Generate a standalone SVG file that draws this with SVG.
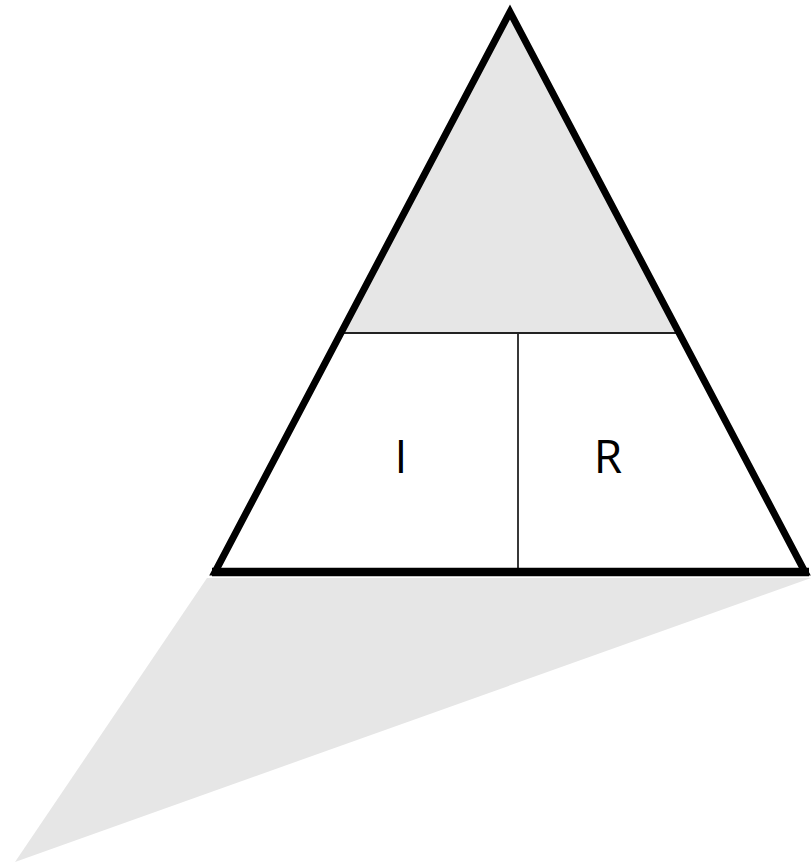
<svg xmlns="http://www.w3.org/2000/svg" width="811" height="862" viewBox="0 0 811 862">
<style>
.lbl{font-family:"Open Sans","Liberation Sans",sans-serif;font-size:46px;fill:#000;text-anchor:middle}
.div{stroke:#222;stroke-width:1.8;fill:none}
</style>
<rect width="811" height="862" fill="#fff"/>
<g id="shadow"><polygon points="207,578 811,578 15,862" fill="#e6e6e6"/></g>
<g id="top"><polygon points="510,12 341.5,333 677,333" fill="#e6e6e6"/></g>
<g id="connectors">
<line class="div" x1="340" y1="333" x2="679" y2="333"/>
<line class="div" x1="518" y1="333" x2="518" y2="572"/>
</g>
<g id="triangle"><polygon points="510,12 215,572 805,572" fill="none" stroke="#000" stroke-width="7" stroke-linejoin="miter"/>
<line x1="212" y1="572" x2="809" y2="572" stroke="#000" stroke-width="8.5"/></g>
<g id="nodeI"><text class="lbl" x="401" y="473">I</text></g>
<g id="nodeR"><text class="lbl" x="608" y="473">R</text></g>
</svg>
